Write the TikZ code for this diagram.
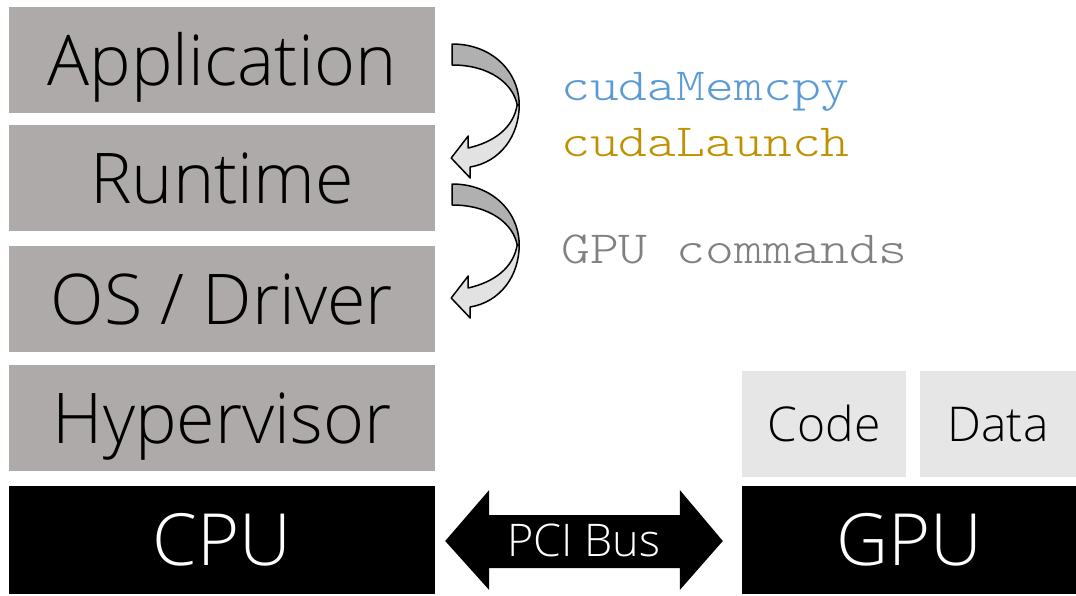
\documentclass[tikz,border=0pt]{standalone}
\usepackage{fontspec}
\IfFontExistsTF{Open Sans Light}{\setmainfont{Open Sans Light}}{\setmainfont{Open Sans}}
\IfFontExistsTF{Latin Modern Mono Light}
  {\newfontfamily\monofont[FakeStretch=1.195]{Latin Modern Mono Light}\def\monosize{46}}
  {\newfontfamily\monofont{Liberation Mono}\def\monosize{49}}
\usetikzlibrary{calc}

\definecolor{layergray}{HTML}{AEAAAA}
\definecolor{panelgray}{HTML}{E7E6E6}
\definecolor{cudablue}{HTML}{5B9BD5}
\definecolor{cudagold}{HTML}{BF9000}
\definecolor{cmdgray}{HTML}{808080}
\definecolor{arrowdark}{HTML}{B0B0B0}
\definecolor{arrowlight}{HTML}{E2E2E2}

\tikzset{
  block/.style={inner sep=0pt, text depth=0pt},
  layer/.style={block, fill=layergray, minimum width=426pt, minimum height=106pt,
    font=\fontsize{70}{70}\selectfont, text height=50pt},
  chip/.style={block, fill=black, text=white, minimum height=108pt,
    font=\fontsize{72}{72}\selectfont, text height=51.4pt},
  memory/.style={block, fill=panelgray, minimum height=106pt,
    font=\fontsize{48}{48}\selectfont, text height=34.3pt},
  call/.style={anchor=base west, inner sep=0pt, font=\monofont\fontsize{\monosize}{\monosize}\selectfont},
  bend arrow/.pic={
    % upper, darker half of the curved arrow
    \filldraw[fill=arrowdark, draw=black, line width=1.5pt, line join=round]
      (0,0) .. controls (40,0) and (67,28) .. (67,61) -- (65,61)
      .. controls (61,40) and (38,21) .. (0,21) -- cycle;
    % lower, lighter half with the head
    \filldraw[fill=arrowlight, draw=black, line width=1.5pt, line join=round]
      (67,61) .. controls (67,92) and (48,118) .. (18,123) -- (18,134)
      -- (-1,114) -- (16,92) -- (16,104)
      .. controls (42,98) and (61,84) .. (65,61) -- cycle;
  }
}

\begin{document}
\begin{tikzpicture}[x=1pt,y=-1pt]
\useasboundingbox (0,0) rectangle (1076,595);

% software stack
\node[layer] (app) at (222,60)  {Application};
\node[layer] (rt)  at (222,178) {Runtime};
\node[layer] (os)  at (222,299) {OS / Driver};
\node[layer] (hv)  at (222,418) {Hypervisor};

% hardware
\node[chip, minimum width=426pt] (cpu) at (222,540) {CPU};
\node[chip, minimum width=334pt] (gpu) at (909,540) {GPU};
\node[memory, minimum width=164pt] (code) at (824,424) {Code};
\node[memory, minimum width=156pt] (data) at (998,424) {Data};

% calls passed down the stack
\pic at ($(app.east)+(17,-16)$) {bend arrow};
\pic at ($(rt.east)+(17,6)$) {bend arrow};

\node[call, text=cudablue] (memcpy) at (561,100) {cudaMemcpy};
\node[call, text=cudagold] (launch) at (561,156) {cudaLaunch};
\node[call, text=cmdgray]  (cmds)   at (561,263) {GPU commands};

% PCI bus between CPU and GPU
\fill[black]
  ($(cpu.east)+(10,1)$) -- ($(cpu.east)+(54,-50)$) -- ($(cpu.east)+(54,-25)$)
  -- ($(gpu.west)+(-62,-25)$) -- ($(gpu.west)+(-62,-50)$) -- ($(gpu.west)+(-19,1)$)
  -- ($(gpu.west)+(-62,50)$) -- ($(gpu.west)+(-62,28)$) -- ($(cpu.east)+(54,28)$)
  -- ($(cpu.east)+(54,50)$) -- cycle;
\node[block, text=white, font=\fontsize{45}{45}\selectfont, text height=32pt]
  (pci) at (584,540) {PCI Bus};
\end{tikzpicture}
\end{document}
